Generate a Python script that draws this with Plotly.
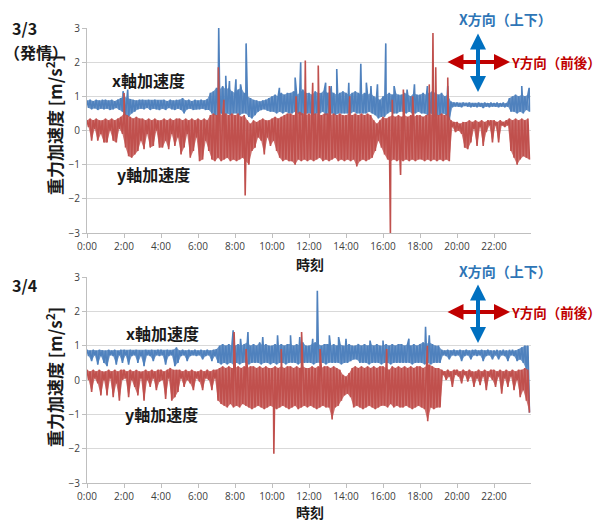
import plotly.graph_objects as go

# ---------------- data ----------------
tick_hours = [0, 2, 4, 6, 8, 10, 12, 14, 16, 18, 20, 22]
tick_labels = ["0:00", "2:00", "4:00", "6:00", "8:00", "10:00", "12:00",
               "14:00", "16:00", "18:00", "20:00", "22:00"]

# 3/3 (発情) x-axis acceleration: 10-minute upper / lower values
x33_hi = [
    0.88, 0.9, 0.86, 0.9, 0.88, 0.9,
    0.9, 0.88, 0.9, 0.86, 0.9, 0.95,
    1.0, 0.95, 0.92, 0.9, 0.88, 0.9,
    0.9, 0.88, 0.9, 0.88, 0.9, 0.88,
    0.88, 0.9, 0.86, 0.9, 0.88, 0.9,
    0.9, 0.95, 0.88, 0.9, 0.86, 0.9,
    0.88, 0.9, 0.88, 0.92, 1.1, 1.15,
    1.25, 1.2, 1.3, 1.2, 1.25, 1.15,
    1.1, 1.2, 1.25, 1.1, 1.0, 0.95,
    0.9, 0.88, 0.85, 0.88, 0.9, 0.95,
    1.0, 1.05, 1.0, 1.1, 1.05, 1.1,
    1.1, 1.15, 1.05, 1.1, 1.2, 1.1,
    1.1, 1.05, 1.15, 1.1, 1.1, 1.2,
    1.1, 1.15, 1.1, 1.05, 1.1, 1.15,
    1.1, 1.05, 1.1, 1.15, 1.1, 1.05,
    1.1, 1.05, 1.1, 1.0, 0.95, 0.9,
    1.0, 1.05, 1.1, 1.05, 1.1, 1.05,
    1.05, 1.1, 1.05, 1.0, 1.1, 1.05,
    1.05, 1.1, 1.05, 1.1, 1.15, 1.1,
    1.05, 1.1, 1.0, 1.05, 0.85, 0.82,
    0.82, 0.8, 0.82, 0.8, 0.82, 0.8,
    0.8, 0.82, 0.8, 0.82, 0.8, 0.82,
    0.8, 0.82, 0.8, 0.82, 0.8, 0.95,
    1.0, 1.05, 1.0, 1.05, 1.0, 1.05,
]
x33_lo = [
    0.66, 0.62, 0.65, 0.6, 0.64, 0.62,
    0.64, 0.6, 0.62, 0.66, 0.6, 0.55,
    0.45, 0.4, 0.5, 0.55, 0.62, 0.64,
    0.62, 0.66, 0.6, 0.64, 0.62, 0.6,
    0.64, 0.6, 0.66, 0.62, 0.6, 0.64,
    0.6, 0.5, 0.62, 0.64, 0.6, 0.62,
    0.62, 0.64, 0.6, 0.6, 0.5, 0.45,
    0.45, 0.5, 0.4, 0.5, 0.45, 0.5,
    0.5, 0.45, 0.5, 0.5, 0.4, 0.35,
    0.45, 0.55, 0.6, 0.62, 0.58, 0.55,
    0.55, 0.5, 0.55, 0.5, 0.55, 0.5,
    0.5, 0.55, 0.5, 0.45, 0.5, 0.5,
    0.5, 0.45, 0.5, 0.5, 0.55, 0.45,
    0.5, 0.5, 0.45, 0.5, 0.5, 0.5,
    0.5, 0.5, 0.55, 0.5, 0.5, 0.5,
    0.5, 0.55, 0.5, 0.45, 0.35, 0.4,
    0.4, 0.5, 0.55, 0.5, 0.5, 0.55,
    0.55, 0.5, 0.55, 0.5, 0.5, 0.55,
    0.5, 0.5, 0.45, 0.5, 0.4, 0.45,
    0.45, 0.5, 0.45, 0.3, 0.68, 0.7,
    0.7, 0.68, 0.72, 0.7, 0.68, 0.7,
    0.68, 0.7, 0.66, 0.7, 0.68, 0.7,
    0.7, 0.68, 0.7, 0.68, 0.7, 0.55,
    0.55, 0.5, 0.55, 0.5, 0.6, 0.55,
]
x33_spike_t = [1.95, 2.2, 7.12, 7.5, 7.7, 8.05, 8.3, 8.6, 10.4, 11.25, 11.55,
               12.9, 13.2, 13.5, 14.15, 14.8, 15.1, 15.35, 15.7, 16.15, 16.6,
               17.3, 17.7, 18.4, 19.5, 23.5, 23.9]
x33_spike_v = [1.15, 1.2, 3.0, 1.6, 1.45, 1.5, 1.35, 2.55, 1.25, 1.55, 2.0,
               1.4, 1.3, 1.8, 1.4, 1.95, 1.4, 1.3, 1.35, 2.55, 1.3,
               1.2, 1.35, 1.3, 1.3, 1.3, 1.25]

# 3/3 (発情) y-axis acceleration
y33_hi = [
    0.3, 0.35, 0.3, 0.35, 0.3, 0.3,
    0.35, 0.3, 0.35, 0.3, 0.35, 0.4,
    0.5, 0.45, 0.4, 0.35, 0.4, 0.35,
    0.35, 0.3, 0.35, 0.3, 0.35, 0.3,
    0.3, 0.35, 0.3, 0.35, 0.3, 0.35,
    0.35, 0.3, 0.35, 0.3, 0.35, 0.3,
    0.35, 0.3, 0.35, 0.3, 0.45, 0.5,
    0.45, 0.5, 0.45, 0.5, 0.45, 0.5,
    0.45, 0.5, 0.4, 0.45, 0.3, 0.2,
    0.3, 0.25, 0.3, 0.35, 0.3, 0.3,
    0.35, 0.4, 0.35, 0.4, 0.45, 0.5,
    0.5, 0.45, 0.5, 0.55, 0.5, 0.45,
    0.5, 0.45, 0.5, 0.5, 0.45, 0.5,
    0.5, 0.45, 0.5, 0.45, 0.5, 0.45,
    0.45, 0.5, 0.45, 0.5, 0.45, 0.5,
    0.45, 0.5, 0.45, 0.3, 0.2, 0.3,
    0.4, 0.35, 0.4, 0.45, 0.4, 0.45,
    0.4, 0.45, 0.4, 0.45, 0.4, 0.45,
    0.45, 0.4, 0.45, 0.5, 0.45, 0.5,
    0.45, 0.5, 0.45, 0.5, 0.3, 0.25,
    0.25, 0.2, 0.25, 0.25, 0.3, 0.25,
    0.3, 0.25, 0.3, 0.25, 0.3, 0.3,
    0.3, 0.25, 0.3, 0.25, 0.3, 0.35,
    0.3, 0.35, 0.3, 0.35, 0.3, 0.35,
]
y33_lo = [
    0.1, -0.3, 0.05, -0.3, -0.1, -0.35,
    -0.35, 0.0, -0.3, -0.35, 0.05, -0.1,
    -0.5, -0.75, -0.8, -0.7, -0.6, -0.3,
    -0.55, -0.1, -0.5, -0.45, 0.0, -0.5,
    -0.5, -0.3, -0.55, -0.1, -0.45, -0.2,
    -0.7, -0.5, -0.1, -0.8, -0.6, -0.2,
    -0.9, -0.85, -0.3, -0.6, -0.85, -0.9,
    -0.8, -0.9, -0.85, -0.8, -0.9, -0.85,
    -0.9, -0.85, -0.8, -0.9, -1.0, -0.6,
    -0.5, -0.2, -0.3, -0.7, -0.2, -0.45,
    -0.3, -0.6, -0.8, -0.9, -0.85, -0.9,
    -0.9, -1.0, -0.85, -0.9, -0.85, -0.9,
    -0.85, -0.9, -0.85, -0.8, -0.9, -0.85,
    -0.9, -0.85, -0.8, -0.9, -0.85, -0.9,
    -0.85, -0.9, -0.85, -1.05, -0.9, -0.85,
    -0.9, -0.85, -0.8, -0.6, -0.3, -0.5,
    -0.7, -0.85, -0.9, -0.85, -0.9, -0.85,
    -0.9, -0.85, -0.9, -0.85, -0.9, -0.85,
    -0.85, -0.9, -0.85, -0.9, -0.85, -0.9,
    -0.85, -0.9, -0.85, -0.9, 0.1, -0.05,
    0.0, -0.1, -0.5, -0.55, -0.35, 0.05,
    -0.45, 0.1, -0.45, -0.05, 0.15, -0.35,
    0.15, -0.35, 0.15, 0.1, 0.15, -0.6,
    -0.8, -1.0, -0.85, -0.75, -0.8, -0.85,
]
y33_spike_t = [2.0, 7.1, 7.4, 8.55, 11.3, 11.8, 12.2, 12.5, 13.1, 14.2,
               16.4, 16.5, 16.95, 17.1, 17.6, 18.5, 18.7, 18.85, 19.5]
y33_spike_v = [1.1, 1.85, 0.9, -1.9, 1.0, 2.05, 1.4, 1.9, 1.3, 1.0,
               -3.0, 0.9, -1.3, 1.2, 1.0, 1.35, 2.85, 1.85, 1.55]

# 3/4 x-axis acceleration
x34_hi = [
    0.88, 0.86, 0.88, 0.86, 0.88, 0.86,
    0.86, 0.88, 0.86, 0.88, 0.86, 0.88,
    0.88, 0.86, 0.88, 0.86, 0.88, 0.86,
    0.86, 0.88, 0.86, 0.88, 0.86, 0.88,
    0.88, 0.86, 0.88, 0.86, 0.88, 0.95,
    0.86, 0.88, 0.86, 0.88, 0.86, 0.88,
    0.86, 0.88, 0.86, 0.88, 0.86, 0.88,
    0.9, 1.0, 1.05, 1.0, 1.05, 1.0,
    1.0, 1.05, 1.0, 1.05, 1.1, 1.0,
    1.05, 1.0, 1.1, 1.0, 1.05, 1.0,
    1.0, 1.05, 1.0, 1.05, 1.0, 1.05,
    1.05, 1.0, 1.05, 1.0, 1.1, 1.0,
    1.0, 1.05, 1.1, 1.05, 1.0, 1.05,
    1.05, 1.0, 1.05, 1.0, 1.05, 1.0,
    1.0, 1.05, 1.0, 1.0, 1.05, 1.0,
    1.05, 1.0, 1.05, 1.0, 1.05, 1.0,
    1.0, 1.05, 1.0, 1.05, 1.0, 1.05,
    1.05, 1.0, 1.05, 1.0, 1.05, 1.0,
    1.05, 1.1, 1.05, 1.1, 1.05, 1.0,
    1.0, 0.88, 0.86, 0.88, 0.86, 0.88,
    0.86, 0.88, 0.86, 0.88, 0.86, 0.88,
    0.88, 0.86, 0.88, 0.86, 0.88, 0.86,
    0.86, 0.88, 0.86, 0.88, 0.86, 0.88,
    0.88, 0.86, 0.9, 0.95, 1.0, 1.0,
]
x34_lo = [
    0.7, 0.55, 0.72, 0.45, 0.7, 0.5,
    0.4, 0.72, 0.7, 0.45, 0.72, 0.5,
    0.72, 0.45, 0.7, 0.72, 0.5, 0.7,
    0.4, 0.72, 0.7, 0.55, 0.72, 0.7,
    0.72, 0.45, 0.7, 0.72, 0.4, 0.5,
    0.7, 0.72, 0.55, 0.7, 0.72, 0.7,
    0.72, 0.6, 0.7, 0.72, 0.55, 0.7,
    0.5, 0.45, 0.5, 0.45, 0.5, 0.45,
    0.5, 0.45, 0.5, 0.5, 0.45, 0.5,
    0.5, 0.5, 0.45, 0.5, 0.5, 0.45,
    0.5, 0.45, 0.5, 0.5, 0.45, 0.5,
    0.5, 0.5, 0.45, 0.5, 0.5, 0.5,
    0.5, 0.45, 0.5, 0.5, 0.5, 0.45,
    0.5, 0.5, 0.5, 0.5, 0.45, 0.5,
    0.5, 0.55, 0.6, 0.6, 0.5, 0.5,
    0.5, 0.45, 0.5, 0.5, 0.5, 0.45,
    0.5, 0.5, 0.45, 0.5, 0.5, 0.5,
    0.5, 0.5, 0.5, 0.45, 0.5, 0.5,
    0.5, 0.45, 0.5, 0.45, 0.5, 0.5,
    0.5, 0.72, 0.7, 0.6, 0.72, 0.7,
    0.72, 0.55, 0.7, 0.72, 0.6, 0.72,
    0.7, 0.72, 0.55, 0.7, 0.72, 0.6,
    0.72, 0.6, 0.72, 0.7, 0.55, 0.72,
    0.7, 0.55, 0.6, 0.5, 0.3, -0.95,
]
x34_spike_t = [7.9, 8.3, 8.7, 9.5, 10.3, 11.0, 11.5, 12.2, 12.45, 13.1, 13.6,
               14.0, 15.3, 16.0, 17.4, 18.3, 18.5]
x34_spike_v = [1.45, 1.2, 1.4, 1.25, 1.3, 1.3, 1.25, 1.2, 2.6, 1.3, 1.25,
               1.2, 1.15, 1.15, 1.2, 1.55, 1.3]

# 3/4 y-axis acceleration
y34_hi = [
    0.3, 0.25, 0.3, 0.25, 0.3, 0.25,
    0.25, 0.3, 0.25, 0.3, 0.25, 0.3,
    0.3, 0.25, 0.3, 0.25, 0.3, 0.25,
    0.25, 0.3, 0.25, 0.3, 0.25, 0.3,
    0.3, 0.25, 0.3, 0.35, 0.3, 0.3,
    0.3, 0.25, 0.3, 0.25, 0.3, 0.25,
    0.25, 0.3, 0.25, 0.3, 0.25, 0.3,
    0.3, 0.35, 0.4, 0.35, 0.4, 0.35,
    0.35, 0.4, 0.35, 0.4, 0.35, 0.4,
    0.4, 0.35, 0.4, 0.35, 0.4, 0.35,
    0.35, 0.4, 0.35, 0.4, 0.35, 0.4,
    0.4, 0.35, 0.4, 0.35, 0.4, 0.35,
    0.35, 0.4, 0.35, 0.4, 0.35, 0.4,
    0.4, 0.35, 0.4, 0.35, 0.3, 0.15,
    0.1, 0.2, 0.35, 0.4, 0.35, 0.4,
    0.35, 0.4, 0.35, 0.4, 0.35, 0.4,
    0.4, 0.35, 0.3, 0.4, 0.35, 0.4,
    0.35, 0.4, 0.35, 0.4, 0.35, 0.4,
    0.4, 0.35, 0.4, 0.45, 0.4, 0.35,
    0.35, 0.3, 0.25, 0.3, 0.25, 0.3,
    0.3, 0.25, 0.3, 0.25, 0.3, 0.25,
    0.25, 0.3, 0.25, 0.3, 0.25, 0.3,
    0.3, 0.25, 0.3, 0.25, 0.3, 0.25,
    0.3, 0.25, 0.3, 0.3, 0.35, 0.3,
]
y34_lo = [
    0.0, -0.35, 0.05, -0.1, -0.45, 0.0,
    -0.45, 0.05, -0.5, -0.1, -0.6, 0.0,
    0.05, -0.5, 0.0, -0.2, -0.45, 0.05,
    -0.6, 0.0, -0.2, 0.05, -0.3, -0.05,
    0.0, -0.55, 0.05, -0.6, -0.5, -0.35,
    0.05, -0.2, 0.0, -0.1, -0.3, 0.05,
    -0.05, -0.3, 0.05, 0.0, -0.3, 0.05,
    -0.6, -0.7, -0.75, -0.8, -0.7, -0.8,
    -0.75, -0.8, -0.7, -0.75, -0.8, -0.85,
    -0.8, -0.75, -0.8, -0.85, -0.8, -0.75,
    -0.8, -0.85, -0.8, -0.75, -0.8, -0.85,
    -0.8, -0.75, -0.85, -0.8, -0.75, -0.8,
    -0.75, -0.8, -0.85, -0.8, -0.75, -0.8,
    -0.8, -1.15, -0.8, -0.75, -0.6, -0.45,
    -0.4, -0.5, -0.8, -0.75, -0.8, -0.85,
    -0.8, -0.75, -0.8, -0.85, -0.8, -0.75,
    -0.75, -0.8, -0.7, -0.8, -0.75, -0.8,
    -0.8, -0.75, -0.8, -0.85, -0.8, -0.75,
    -0.8, -0.85, -1.2, -0.8, -0.85, -0.8,
    -0.8, 0.15, 0.0, 0.1, -0.2, 0.15,
    0.1, -0.1, 0.15, -0.05, 0.1, -0.2,
    0.05, -0.15, 0.1, -0.3, 0.1, 0.0,
    -0.2, 0.1, -0.4, 0.05, -0.2, 0.1,
    -0.3, 0.0, -0.5, -0.3, -0.6, -0.95,
]
y34_spike_t = [7.95, 8.6, 10.1, 10.5, 11.6, 12.6, 16.2, 18.4]
y34_spike_v = [1.4, 0.9, -2.15, 0.9, 1.4, 0.9, 0.9, 1.0]

# ---------------- helpers ----------------
BLUE = "#4F81BD"
RED = "#C0504D"
BLUE_FILL = "rgba(79,129,189,0.8)"
RED_FILL = "rgba(192,80,77,0.8)"


def build(hi, lo, spike_t, spike_v):
    pts = []
    for k, (h, l) in enumerate(zip(hi, lo)):
        t = k / 6.0
        pts.append((t, h))
        pts.append((t + 1 / 12.0, l))
    for t, v in zip(spike_t, spike_v):
        pts.append((t, v))
    pts.sort(key=lambda p: p[0])
    return [p[0] for p in pts], [p[1] for p in pts]


def envelope(hi, lo):
    xs = [k / 6.0 for k in range(len(hi))]
    xl = [k / 6.0 + 1 / 12.0 for k in range(len(lo))]
    return xs + xl[::-1], list(hi) + list(lo)[::-1]


fig = go.Figure()

series = [
    (x33_hi, x33_lo, x33_spike_t, x33_spike_v, BLUE, BLUE_FILL, "x", "y"),
    (y33_hi, y33_lo, y33_spike_t, y33_spike_v, RED, RED_FILL, "x", "y"),
    (x34_hi, x34_lo, x34_spike_t, x34_spike_v, BLUE, BLUE_FILL, "x2", "y2"),
    (y34_hi, y34_lo, y34_spike_t, y34_spike_v, RED, RED_FILL, "x2", "y2"),
]
for hi, lo, st, sv, col, fcol, xa, ya in series:
    ex, ey = envelope(hi, lo)
    fig.add_trace(go.Scatter(x=ex, y=ey, mode="lines", fill="toself",
                             fillcolor=fcol, line=dict(width=0),
                             xaxis=xa, yaxis=ya, showlegend=False,
                             hoverinfo="skip"))
    xs, ys = build(hi, lo, st, sv)
    fig.add_trace(go.Scatter(x=xs, y=ys, mode="lines",
                             line=dict(color=col, width=1.6),
                             xaxis=xa, yaxis=ya, showlegend=False,
                             hoverinfo="skip"))

# pixel geometry helpers
L, R, T, B = 87, 76, 28, 37
W, H = 607, 520
PW, PH = W - L - R, H - T - B


def px(xp):
    return (xp - L) / PW


def py(yp):
    return (H - B - yp) / PH


top_dom = [py(233), 1.0]
bot_dom = [0.0, py(277)]

axis_common = dict(showgrid=False, showline=True, linecolor="#BFBFBF",
                   linewidth=1, ticks="outside", tickcolor="#BFBFBF",
                   ticklen=4, range=[0, 24], tickvals=tick_hours,
                   ticktext=tick_labels, zeroline=False,
                   tickfont=dict(family="Open Sans", size=10, color="#404040"))
yaxis_common = dict(range=[-3, 3], dtick=1, showgrid=True, gridcolor="#D9D9D9",
                    gridwidth=1, zeroline=False, showline=True,
                    linecolor="#BFBFBF", ticks="outside", tickcolor="#BFBFBF",
                    ticklen=4,
                    tickfont=dict(family="Open Sans", size=10, color="#404040"))

fig.update_layout(
    width=W, height=H, paper_bgcolor="white", plot_bgcolor="white",
    margin=dict(l=L, r=R, t=T, b=B),
    xaxis=dict(domain=[0, 1], anchor="y", **axis_common),
    yaxis=dict(domain=top_dom, anchor="x", **yaxis_common),
    xaxis2=dict(domain=[0, 1], anchor="y2", **axis_common),
    yaxis2=dict(domain=bot_dom, anchor="x2", **yaxis_common),
)

BOLD = dict(family="Noto Sans CJK JP", size=16, color="#1a1a1a")
XT = dict(family="Noto Sans CJK JP", size=14, color="#1a1a1a")
YT = dict(family="Noto Sans CJK JP", size=17, color="#1a1a1a")
anns = []


def text(xp, yp, s, font, xanchor="center", angle=0):
    anns.append(dict(x=px(xp), y=py(yp), xref="paper", yref="paper", text=s,
                     showarrow=False, font=font, xanchor=xanchor,
                     yanchor="middle", textangle=angle))


# titles and labels
text(310, 264, "<b>時刻</b>", XT)
text(310, 512, "<b>時刻</b>", XT)
text(54, 125, "<b>重力加速度 [m/s<sup>2</sup>]</b>", YT, angle=-90)
text(54, 377, "<b>重力加速度 [m/s<sup>2</sup>]</b>", YT, angle=-90)
text(10, 28, "<b>3/3</b>", BOLD, xanchor="left")
text(2, 52, "<b>（発情）</b>", BOLD, xanchor="left")
text(10, 285, "<b>3/4</b>", BOLD, xanchor="left")
text(148, 80, "<b>x軸加速度</b>", BOLD)
text(153, 174, "<b>y軸加速度</b>", BOLD)
text(162, 333, "<b>x軸加速度</b>", BOLD)
text(161, 414, "<b>y軸加速度</b>", BOLD)

# direction indicators
DIR_X = dict(family="Noto Sans CJK JP", size=14, color="#2E75B6")
DIR_Y = dict(family="Noto Sans CJK JP", size=13.5, color="#C00000")
for top, vy0, vy1, hy in ((19, 32, 92, 62), (271, 283, 343, 312)):
    text(505, top, "<b>X方向（上下）</b>", DIR_X)
    text(509, hy, "<b>Y方向（前後）</b>", DIR_Y, xanchor="left")
    # horizontal red double arrow
    anns.append(dict(x=px(510), y=py(hy), xref="paper", yref="paper",
                     ax=-64, ay=0, axref="pixel", ayref="pixel", text="",
                     showarrow=True, arrowhead=2, arrowside="end+start",
                     arrowsize=0.8, arrowwidth=4, arrowcolor="#C00000"))
    # vertical blue double arrow
    anns.append(dict(x=px(478), y=py(vy1), xref="paper", yref="paper",
                     ax=0, ay=-(vy1 - vy0), axref="pixel", ayref="pixel",
                     text="", showarrow=True, arrowhead=2,
                     arrowside="end+start", arrowsize=0.8, arrowwidth=4,
                     arrowcolor="#0070C0"))

fig.update_layout(annotations=anns)
fig.write_html("out.html", config={"displayModeBar": False},
               post_script="document.body.style.margin='0px';")
